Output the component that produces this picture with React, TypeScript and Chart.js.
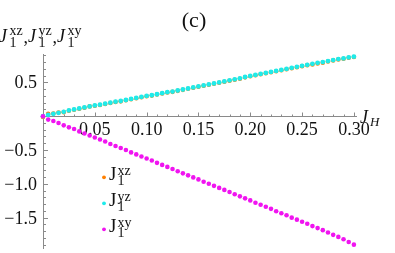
import React, { useEffect, useRef } from "react";
import { Chart, registerables } from "chart.js";

Chart.register(...registerables);

// J_H values
const jH = [0, 0.005, 0.01, 0.015, 0.02, 0.025, 0.03, 0.035, 0.04, 0.045, 0.05, 0.055, 0.06, 0.065, 0.07, 0.075, 0.08, 0.085, 0.09, 0.095, 0.1, 0.105, 0.11, 0.115, 0.12, 0.125, 0.13, 0.135, 0.14, 0.145, 0.15, 0.155, 0.16, 0.165, 0.17, 0.175, 0.18, 0.185, 0.19, 0.195, 0.2, 0.205, 0.21, 0.215, 0.22, 0.225, 0.23, 0.235, 0.24, 0.245, 0.25, 0.255, 0.26, 0.265, 0.27, 0.275, 0.28, 0.285, 0.29, 0.295, 0.3];

const j1xz = [-0.01, 0.035, 0.04, 0.055, 0.06, 0.08, 0.095, 0.11, 0.125, 0.145, 0.155, 0.165, 0.18, 0.195, 0.21, 0.22, 0.235, 0.25, 0.265, 0.28, 0.295, 0.305, 0.32, 0.335, 0.35, 0.36, 0.375, 0.39, 0.405, 0.42, 0.435, 0.45, 0.465, 0.48, 0.495, 0.51, 0.525, 0.54, 0.555, 0.575, 0.59, 0.605, 0.62, 0.635, 0.65, 0.665, 0.68, 0.695, 0.71, 0.725, 0.74, 0.755, 0.765, 0.78, 0.79, 0.81, 0.825, 0.84, 0.85, 0.865, 0.875];

const j1yz = [0.0, 0.02, 0.035, 0.05, 0.065, 0.085, 0.1, 0.115, 0.13, 0.145, 0.16, 0.17, 0.185, 0.2, 0.215, 0.225, 0.24, 0.255, 0.27, 0.285, 0.3, 0.31, 0.325, 0.34, 0.355, 0.365, 0.38, 0.395, 0.41, 0.425, 0.44, 0.455, 0.47, 0.485, 0.5, 0.515, 0.53, 0.545, 0.56, 0.58, 0.595, 0.61, 0.625, 0.64, 0.655, 0.67, 0.685, 0.7, 0.715, 0.73, 0.745, 0.76, 0.775, 0.79, 0.8, 0.815, 0.83, 0.845, 0.855, 0.87, 0.88];

const j1xy = [0.0, -0.05, -0.07, -0.1, -0.135, -0.165, -0.19, -0.225, -0.255, -0.285, -0.315, -0.345, -0.375, -0.41, -0.44, -0.47, -0.5, -0.535, -0.565, -0.595, -0.625, -0.655, -0.69, -0.72, -0.75, -0.78, -0.815, -0.845, -0.875, -0.905, -0.935, -0.97, -1.0, -1.03, -1.06, -1.09, -1.12, -1.155, -1.185, -1.215, -1.245, -1.28, -1.31, -1.34, -1.37, -1.405, -1.435, -1.465, -1.5, -1.53, -1.56, -1.59, -1.625, -1.655, -1.685, -1.72, -1.755, -1.785, -1.82, -1.86, -1.9];

const seriesNames = ["xz", "yz", "xy"];
const seriesColors = ["rgb(255,128,0)", "rgb(30,235,235)", "rgb(240,20,240)"];

const xTickValues = [0.05, 0.1, 0.15, 0.2, 0.25, 0.3];
const xTickLabels = ["0.05", "0.10", "0.15", "0.20", "0.25", "0.30"];
const yTickValues = [-1.5, -1.0, -0.5, 0.5];
const yTickLabels = ["\u22121.5", "\u22121.0", "\u22120.5", "0.5"];

const X_MIN = 0, X_MAX = 0.303;
const Y_MIN = -1.964, Y_MAX = 0.92;

const AXIS_COLOR = "#8a8a8a";
const TEXT_COLOR = "#111111";
const SERIF = "'Liberation Serif', 'DejaVu Serif', serif";

function drawJ(ctx: CanvasRenderingContext2D, x: number, base: number, sup: string, sub: string, italic: boolean, jSize: number, sSize: number, sOff: number, subDy: number, supDy: number) {
  ctx.font = `${italic ? "italic " : ""}${jSize}px ${SERIF}`;
  ctx.fillText("J", x, base);
  ctx.font = `${sSize}px ${SERIF}`;
  ctx.fillText(sub, x + sOff, base + subDy);
  ctx.fillText(sup, x + sOff, base + supDy);
}

const mmaPlugin = {
  id: "mmaAxes",
  beforeDatasetsDraw(chart: any) {
    const { ctx, chartArea, scales } = chart;
    const xs = scales.x, ys = scales.y;
    const x0 = Math.round(xs.getPixelForValue(0)) + 0.5;
    const y0 = Math.round(ys.getPixelForValue(0)) + 0.5;
    ctx.save();
    ctx.strokeStyle = AXIS_COLOR;
    ctx.lineWidth = 1;
    ctx.beginPath();
    ctx.moveTo(x0, y0);
    ctx.lineTo(chartArea.right, y0);
    ctx.moveTo(x0, chartArea.top);
    ctx.lineTo(x0, chartArea.bottom);
    // x ticks (major every 0.05, minor every 0.01)
    for (let i = 1; i <= 30; i++) {
      const v = i / 100;
      const px = Math.round(xs.getPixelForValue(v)) + 0.5;
      const major = i % 5 === 0;
      ctx.moveTo(px, y0);
      ctx.lineTo(px, y0 - (major ? 4 : 2));
    }
    // y ticks (major every 0.5, minor every 0.1)
    for (let i = -19; i <= 9; i++) {
      if (i === 0) continue;
      const v = i / 10;
      const py = Math.round(ys.getPixelForValue(v)) + 0.5;
      const major = i % 5 === 0;
      ctx.moveTo(x0, py);
      ctx.lineTo(x0 + (major ? 4.5 : 2.5), py);
    }
    ctx.stroke();

    ctx.fillStyle = TEXT_COLOR;
    ctx.font = `18px ${SERIF}`;
    ctx.textAlign = "center";
    ctx.textBaseline = "alphabetic";
    xTickValues.forEach((v, i) => {
      ctx.fillText(xTickLabels[i], xs.getPixelForValue(v), y0 + 18);
    });
    ctx.textAlign = "right";
    yTickValues.forEach((v, i) => {
      ctx.fillText(yTickLabels[i], x0 - 6.5, ys.getPixelForValue(v) + 6);
    });
    ctx.restore();
  },
  afterDatasetsDraw(chart: any) {
    const { ctx, scales } = chart;
    const xs = scales.x, ys = scales.y;
    const y0 = ys.getPixelForValue(0);
    ctx.save();
    ctx.fillStyle = TEXT_COLOR;
    ctx.textBaseline = "alphabetic";
    // title
    ctx.font = `22px ${SERIF}`;
    ctx.textAlign = "center";
    ctx.fillText("(c)", 194, 27);
    ctx.textAlign = "left";
    // y axis label
    const yl = [-1, 28, 57];
    yl.forEach((x, i) => {
      drawJ(ctx, x, 42, seriesNames[i], "1", true, 18, 14, 10.5, 5, -7);
      if (i < 2) {
        ctx.font = `18px ${SERIF}`;
        ctx.fillText(",", x + 24.5, 43);
      }
    });
    // x axis label
    ctx.font = `italic 18px ${SERIF}`;
    ctx.fillText("J", xs.getPixelForValue(0.3) + 6, y0 + 7);
    ctx.font = `italic 13px ${SERIF}`;
    ctx.fillText("H", xs.getPixelForValue(0.3) + 16, y0 + 10);
    // legend
    const legY = [177.3, 203.3, 229.3];
    legY.forEach((m, i) => {
      ctx.fillStyle = seriesColors[i];
      ctx.beginPath();
      ctx.arc(104, m, 1.9, 0, Math.PI * 2);
      ctx.fill();
      ctx.fillStyle = TEXT_COLOR;
      drawJ(ctx, 109, m + 3, seriesNames[i], "1", false, 19, 14, 8.5, 4.5, -5.5);
    });
    ctx.restore();
  },
};

export default function App() {
  const ref = useRef<HTMLCanvasElement | null>(null);
  useEffect(() => {
    if (!ref.current) return;
    const mk = (vals: number[]) => jH.map((x, i) => ({ x, y: vals[i] }));
    const chart = new Chart(ref.current, {
      type: "scatter",
      data: {
        datasets: [
          { label: "J1xz", data: mk(j1xz), backgroundColor: seriesColors[0], pointRadius: 2.3, borderWidth: 0, order: 3, clip: false },
          { label: "J1yz", data: mk(j1yz), backgroundColor: seriesColors[1], pointRadius: 2.4, borderWidth: 0, order: 2, clip: false },
          { label: "J1xy", data: mk(j1xy), backgroundColor: seriesColors[2], pointRadius: 2.3, borderWidth: 0, order: 1, clip: false },
        ] as any,
      },
      options: {
        responsive: false,
        animation: false,
        layout: { padding: { left: 43, right: 38, top: 54, bottom: 0 } },
        plugins: { legend: { display: false }, tooltip: { enabled: false } },
        scales: {
          x: { type: "linear", min: X_MIN, max: X_MAX, display: false },
          y: { type: "linear", min: Y_MIN, max: Y_MAX, display: false },
        },
      },
      plugins: [mmaPlugin],
    });
    return () => chart.destroy();
  }, []);
  return (
    <div style={{ position: "fixed", left: 0, top: 0, width: 395, height: 253, background: "#fff" }}>
      <canvas ref={ref} width={395} height={253} style={{ display: "block" }} />
    </div>
  );
}
